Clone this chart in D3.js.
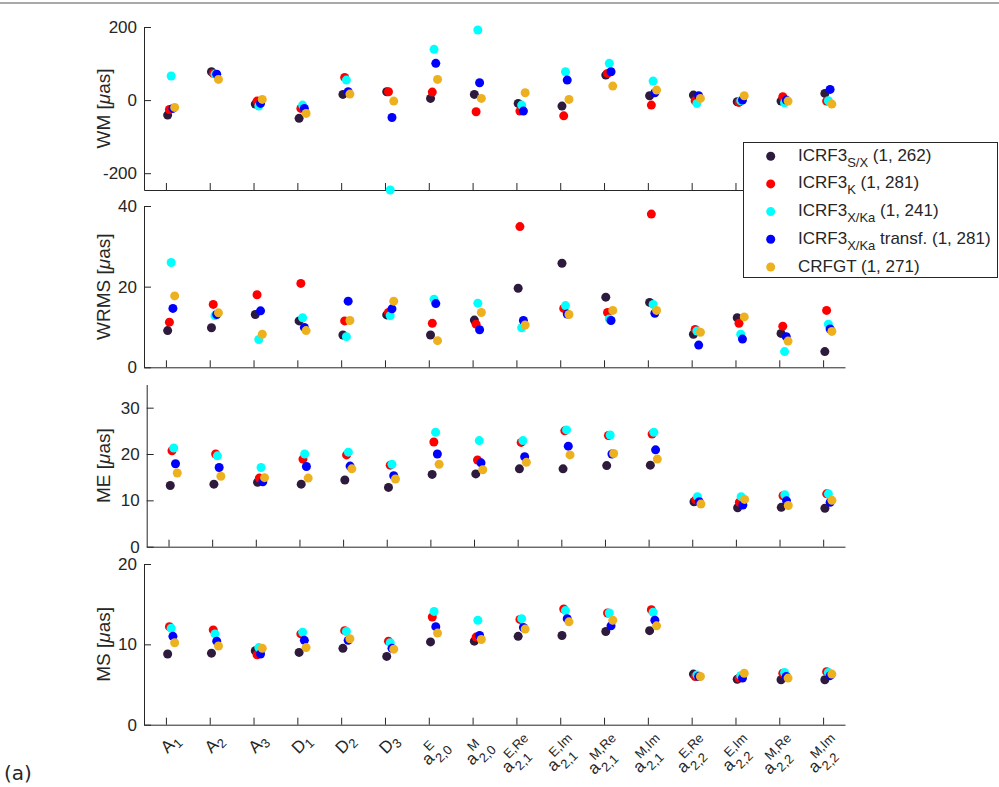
<!DOCTYPE html>
<html><head><meta charset="utf-8">
<script src="https://cdn.jsdelivr.net/npm/d3@7"></script>
<style>body{margin:0;background:#fff}svg{display:block}text{fill:#262626}</style>
</head><body><svg id="chart" width="999" height="787" font-family="Liberation Sans, Arial, sans-serif"></svg>
<script>
// ---- category (x tick) labels ----
const xBase = ["A","A","A","D","D","D","a","a","a","a","a","a","a","a","a","a"];
const xSup  = ["","","","","","","E","M","E,Re","E,Im","M,Re","M,Im","E,Re","E,Im","M,Re","M,Im"];
const xSub  = ["1","2","3","1","2","3","2,0","2,0","2,1","2,1","2,1","2,1","2,2","2,2","2,2","2,2"];

// ---- series ----
const seriesBase   = ["ICRF3","ICRF3","ICRF3","ICRF3","CRFGT"];
const seriesSub    = ["S/X","K","X/Ka","X/Ka",""];
const seriesSuffix = [" (1, 262)"," (1, 281)"," (1, 241)"," transf. (1, 281)"," (1, 271)"];
const seriesColors = ["#2d1a3c","#ff0000","#00ffff","#0000ff","#edb120"];

// ---- WM [µas] ----
const wmSX    = [-41, 77.6, -11, -50, 15.5, 22.8, 4.6, 15.5, -9, -16.4, 68.5, 11.9, 13.7, -4.6, -2.7, 18.3];
const wmK     = [-25.6, 73, -2.7, -22.8, 62, 22.8, 21.9, -32, -30, -43, 73, -13.7, -1.8, -6.4, 9, -2.7];
const wmXKa   = [65.8, 71, -16.4, -13.7, 54.8, -246, 138.8, 191.8, -13.7, 77.6, 100.5, 52, -9, -1.8, -7.3, -1.8];
const wmXKaT  = [-22.8, 71, -9, -22.8, 22.8, -47.5, 100.5, 47.5, -30, 54.8, 77.6, 20, 11.9, 0, 0, 29.2];
const wmCRFGT = [-20, 56.6, 1.8, -36.5, 16.4, -2.7, 56.6, 4.6, 20, 1.8, 38.4, 27.4, 4.6, 11.9, -2.7, -11];

// ---- WRMS [µas] ----
const wrmsSX    = [9.1, 9.8, 13.1, 11.5, 8.0, 13.0, 8.0, 11.7, 19.6, 25.8, 17.4, 16.1, 8.2, 12.3, 8.4, 3.9];
const wrmsK     = [11.2, 15.6, 18.0, 20.8, 11.5, 13.6, 10.9, 10.7, 34.9, 14.6, 13.6, 38.0, 9.4, 10.9, 10.2, 14.1];
const wrmsXKa   = [26.0, 12.8, 6.9, 12.3, 7.6, 12.8, 16.9, 15.9, 9.8, 15.3, 12.0, 15.6, 9.0, 8.2, 3.9, 10.7];
const wrmsXKaT  = [14.6, 13.1, 14.0, 9.9, 16.4, 14.5, 15.8, 9.3, 11.6, 13.2, 11.6, 13.4, 5.5, 7.0, 7.6, 9.5];
const wrmsCRFGT = [17.7, 13.5, 8.2, 9.1, 11.6, 16.4, 6.6, 13.6, 10.5, 13.1, 14.1, 14.1, 8.7, 12.5, 6.5, 8.9];

// ---- ME [µas] ----
const meSX    = [13.2, 13.5, 13.9, 13.5, 14.4, 12.8, 15.6, 15.7, 16.8, 16.8, 17.5, 17.6, 9.7, 8.4, 8.5, 8.3];
const meK     = [20.7, 20.0, 14.8, 18.9, 19.8, 17.6, 22.6, 18.7, 22.5, 25.0, 24.0, 24.3, 10.1, 9.6, 11.0, 11.4];
const meXKa   = [21.3, 19.6, 17.1, 20.0, 20.4, 17.8, 24.7, 22.9, 22.9, 25.2, 24.1, 24.7, 10.8, 10.8, 11.2, 11.4];
const meXKaT  = [17.9, 17.1, 14.0, 17.3, 17.4, 15.3, 20.0, 18.1, 19.4, 21.7, 20.0, 20.9, 9.7, 9.0, 9.9, 9.6];
const meCRFGT = [15.9, 15.2, 14.9, 14.8, 16.8, 14.6, 17.8, 16.6, 18.2, 19.8, 20.1, 18.9, 9.2, 10.2, 8.9, 10.0];

// ---- MS [µas] ----
const msSX    = [8.8, 8.9, 9.2, 9.0, 9.5, 8.5, 10.3, 10.4, 11.0, 11.1, 11.6, 11.7, 6.3, 5.65, 5.6, 5.6];
const msK     = [12.2, 11.8, 8.7, 11.3, 11.7, 10.4, 13.4, 10.9, 13.1, 14.4, 13.9, 14.3, 6.0, 5.8, 6.4, 6.6];
const msXKa   = [12.0, 11.3, 9.6, 11.5, 11.6, 10.2, 14.1, 13.0, 13.2, 14.2, 13.9, 14.0, 6.2, 6.1, 6.5, 6.5];
const msXKaT  = [11.0, 10.4, 8.8, 10.5, 10.5, 9.5, 12.2, 11.1, 12.1, 13.2, 12.3, 13.0, 6.0, 5.8, 6.0, 6.1];
const msCRFGT = [10.2, 9.8, 9.5, 9.6, 10.7, 9.4, 11.4, 10.6, 11.9, 12.8, 13.0, 12.3, 6.0, 6.4, 5.8, 6.3];

// ---- axis ticks ----
const wmTicks = [-200, 0, 200];
const wrmsTicks = [0, 20, 40];
const meTicks = [0, 10, 20, 30];
const msTicks = [0, 10, 20];

const panels = [
  {label:"WM", series:[wmSX,wmK,wmXKa,wmXKaT,wmCRFGT], domain:[-246,200], ticks:wmTicks, top:27, bottom:190, left:144},
  {label:"WRMS", series:[wrmsSX,wrmsK,wrmsXKa,wrmsXKaT,wrmsCRFGT], domain:[0,40], ticks:wrmsTicks, top:206, bottom:367.3, left:144},
  {label:"ME", series:[meSX,meK,meXKa,meXKaT,meCRFGT], domain:[0,35], ticks:meTicks, top:384.5, bottom:546.7, left:146.7},
  {label:"MS", series:[msSX,msK,msXKa,msXKaT,msCRFGT], domain:[0,20], ticks:msTicks, top:564, bottom:724.7, left:144}
];
const right = 845;
const offsets = [0.04, 0.08, 0.12, 0.16, 0.20];
const R = 4.5;

const svg = d3.select("#chart");
svg.append("rect").attr("width",999).attr("height",787).attr("fill","#fff");
svg.append("line").attr("x1",0).attr("x2",999).attr("y1",3).attr("y2",3).attr("stroke","#555").attr("stroke-width",1.2);

const idx = d3.range(1, 17);

panels.forEach((p, pi) => {
  const x = d3.scaleLinear().domain([0.5, 16.5]).range([p.left, right]);
  const y = d3.scaleLinear().domain(p.domain).range([p.bottom, p.top]);
  const g = svg.append("g");

  const yAx = g.append("g").attr("transform", `translate(${p.left},0)`)
    .call(d3.axisLeft(y).tickValues(p.ticks).tickSizeInner(-7).tickSizeOuter(0).tickPadding(7).tickFormat(d => String(d)));
  const xAx = g.append("g").attr("transform", `translate(0,${p.bottom})`)
    .call(d3.axisBottom(x).tickValues(idx).tickSizeInner(-7).tickSizeOuter(0).tickFormat(""));
  [yAx, xAx].forEach(a => {
    a.select(".domain").attr("stroke","#262626").attr("stroke-width",1);
    a.selectAll(".tick line").attr("stroke","#262626").attr("stroke-width",1);
    a.selectAll(".tick text").attr("font-size",17).attr("fill","#262626").attr("font-family","Liberation Sans, Arial, sans-serif");
  });

  // y label
  const yl = g.append("text")
    .attr("transform", `translate(110,${(p.top + p.bottom) / 2}) rotate(-90)`)
    .attr("text-anchor","middle").attr("font-size",19);
  yl.append("tspan").text(p.label + " [");
  yl.append("tspan").attr("font-style","italic").text("\u03bc");
  yl.append("tspan").text("as]");

  // points
  p.series.forEach((vals, si) => {
    g.append("g").selectAll("circle").data(vals).join("circle")
      .attr("cx", (d, i) => x(i + 1 + offsets[si]))
      .attr("cy", d => y(d))
      .attr("r", R)
      .attr("fill", seriesColors[si]);
  });

  // x tick labels on bottom panel (rotated 45°)
  if (pi === panels.length - 1) {
    idx.forEach((v, i) => {
      const lab = g.append("g");
      const parts = [];
      const base = lab.append("text").attr("x",0).attr("y",0).attr("font-size",17).text(xBase[i]);
      parts.push(base);
      const w = base.node().getComputedTextLength();
      if (xSup[i]) {
        parts.push(lab.append("text").attr("x", w + 1).attr("y", -10).attr("font-size",13).text(xSup[i]));
        parts.push(lab.append("text").attr("x", w + 1).attr("y", 6.5).attr("font-size",13).text(xSub[i]));
      } else {
        parts.push(lab.append("text").attr("x", w).attr("y", 4).attr("font-size",13).text(xSub[i]));
      }
      const bb = lab.node().getBBox();
      const ox = -bb.x - bb.width - 1, oy = -bb.y + 7;
      parts.forEach(t => t.attr("transform", `translate(${x(v)},${p.bottom}) rotate(-45) translate(${ox},${oy})`));
    });
  }
});

// legend
const lg = svg.append("g");
lg.append("rect").attr("x",743.5).attr("y",142.5).attr("width",254).attr("height",135)
  .attr("fill","#fff").attr("stroke","#262626").attr("stroke-width",1);
seriesBase.forEach((b, i) => {
  const by = 160.7 + i * 27.7;
  lg.append("circle").attr("cx",770.7).attr("cy",by - 4.5).attr("r",R).attr("fill",seriesColors[i]);
  const t = lg.append("text").attr("x",798).attr("y",by).attr("font-size",17);
  t.append("tspan").text(b);
  if (seriesSub[i]) t.append("tspan").attr("font-size",13).attr("dy",6).text(seriesSub[i]);
  t.append("tspan").attr("dy", seriesSub[i] ? -6 : 0).text(seriesSuffix[i]);
});

// panel tag
svg.append("text").attr("x",4).attr("y",780).attr("font-size",20).attr("font-family","DejaVu Sans, sans-serif").text("(a)");
</script>
</body></html>
